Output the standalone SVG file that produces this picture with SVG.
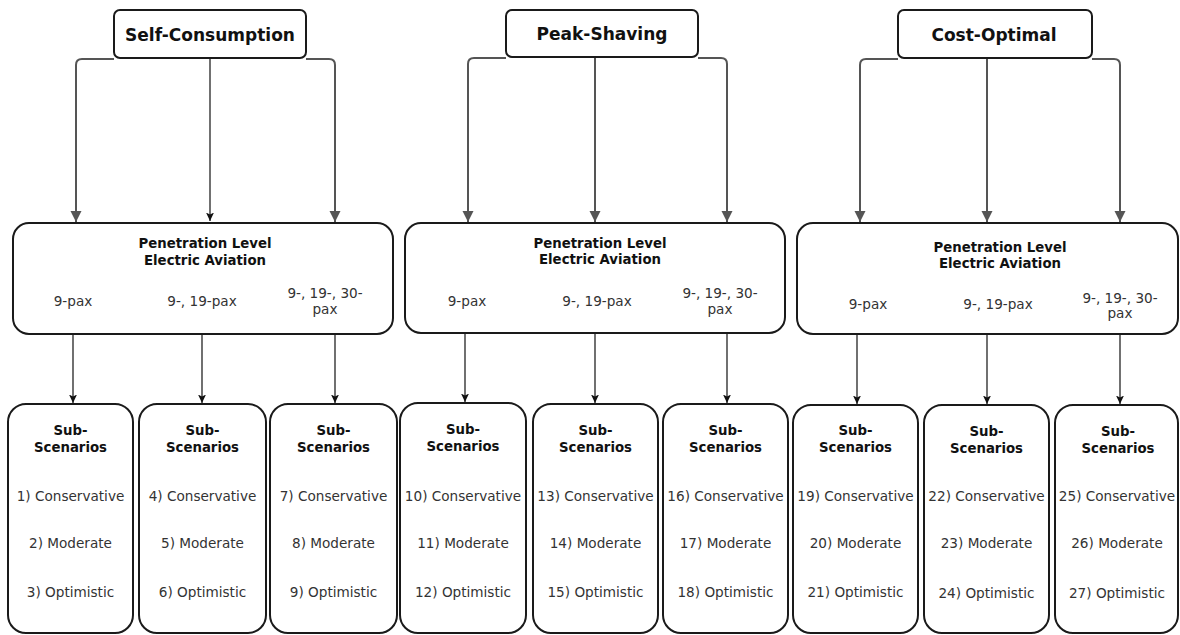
<svg xmlns="http://www.w3.org/2000/svg" width="1180" height="635" viewBox="0 0 1180 635">
<defs>
<style>
.box{fill:#fff;stroke:#1a1a1a;stroke-width:2}
.ttl{font-family:"DejaVu Sans",Verdana,sans-serif;font-weight:bold;font-size:17px;fill:#111;text-anchor:middle}
.hd{font-family:"DejaVu Sans",Verdana,sans-serif;font-weight:bold;font-size:13.3px;fill:#111;text-anchor:middle}
.tx{font-family:"DejaVu Sans",Verdana,sans-serif;font-size:13.6px;fill:#333;text-anchor:middle}
.cg{fill:none;stroke:#555;stroke-width:2}
.ck{fill:none;stroke:#111;stroke-width:1.2}
</style>
<marker id="ag" markerUnits="userSpaceOnUse" markerWidth="12" markerHeight="12" viewBox="0 0 12 12" refX="11" refY="6" orient="auto">
<path d="M0,0.5 L11,6 L0,11.5 z" fill="#555"/>
</marker>
<marker id="ak" markerUnits="userSpaceOnUse" markerWidth="9" markerHeight="9" viewBox="0 0 9 9" refX="8.5" refY="4.5" orient="auto">
<path d="M0,0.5 L8.5,4.5 L0,8.5 L2,4.5 z" fill="#111"/>
</marker>
</defs>

<g id="connectors">
<path class="cg" d="M114,59 H82 Q76,59 76,65 V222" marker-end="url(#ag)"/>
<path class="ck" d="M210,58 V221" marker-end="url(#ak)"/>
<path class="cg" d="M306,59 H329 Q335,59 335,65 V222" marker-end="url(#ag)"/>
<path class="cg" d="M506,58 H474 Q468,58 468,64 V222" marker-end="url(#ag)"/>
<path class="cg" d="M595,57 V222" marker-end="url(#ag)"/>
<path class="cg" d="M698,58 H721 Q727,58 727,64 V222" marker-end="url(#ag)"/>
<path class="cg" d="M898,59 H866 Q860,59 860,65 V222" marker-end="url(#ag)"/>
<path class="cg" d="M987,58 V222" marker-end="url(#ag)"/>
<path class="cg" d="M1092,59 H1114 Q1120,59 1120,65 V222" marker-end="url(#ag)"/>
<path class="ck" d="M73,335 V403" marker-end="url(#ak)"/>
<path class="ck" d="M202,335 V403" marker-end="url(#ak)"/>
<path class="ck" d="M335,335 V403" marker-end="url(#ak)"/>
<path class="ck" d="M465,334 V402" marker-end="url(#ak)"/>
<path class="ck" d="M595,334 V403" marker-end="url(#ak)"/>
<path class="ck" d="M727,334 V403" marker-end="url(#ak)"/>
<path class="ck" d="M857,335 V404" marker-end="url(#ak)"/>
<path class="ck" d="M987,335 V404" marker-end="url(#ak)"/>
<path class="ck" d="M1120,335 V404" marker-end="url(#ak)"/>
</g>

<g id="self-consumption">
<rect class="box" x="114" y="10" width="192" height="48" rx="6"/>
<text class="ttl" x="210" y="41">Self-Consumption</text>
</g>
<g id="peak-shaving">
<rect class="box" x="506" y="10" width="192" height="47" rx="6"/>
<text class="ttl" x="602" y="40">Peak-Shaving</text>
</g>
<g id="cost-optimal">
<rect class="box" x="898" y="10" width="194" height="48" rx="6"/>
<text class="ttl" x="994" y="41">Cost-Optimal</text>
</g>

<g id="penetration-1">
<rect class="box" x="13" y="223" width="380" height="111" rx="16"/>
<text class="hd" x="205" y="248">Penetration Level</text>
<text class="hd" x="205" y="265">Electric Aviation</text>
<text class="tx" x="73" y="306">9-pax</text>
<text class="tx" x="202" y="306">9-, 19-pax</text>
<text class="tx" x="325" y="298">9-, 19-, 30-</text>
<text class="tx" x="325" y="314">pax</text>
</g>
<g id="penetration-2">
<rect class="box" x="405" y="223" width="380" height="110" rx="16"/>
<text class="hd" x="600" y="248">Penetration Level</text>
<text class="hd" x="600" y="264">Electric Aviation</text>
<text class="tx" x="467" y="306">9-pax</text>
<text class="tx" x="597" y="306">9-, 19-pax</text>
<text class="tx" x="720" y="298">9-, 19-, 30-</text>
<text class="tx" x="720" y="314">pax</text>
</g>
<g id="penetration-3">
<rect class="box" x="797" y="223" width="381" height="111" rx="16"/>
<text class="hd" x="1000" y="252">Penetration Level</text>
<text class="hd" x="1000" y="268">Electric Aviation</text>
<text class="tx" x="868" y="309">9-pax</text>
<text class="tx" x="998" y="309">9-, 19-pax</text>
<text class="tx" x="1120" y="303">9-, 19-, 30-</text>
<text class="tx" x="1120" y="318">pax</text>
</g>

<g id="sub-1">
<rect class="box" x="8" y="404" width="125" height="229" rx="18"/>
<text class="hd" x="70.5" y="435">Sub-</text>
<text class="hd" x="70.5" y="452">Scenarios</text>
<text class="tx" x="70.5" y="501">1) Conservative</text>
<text class="tx" x="70.5" y="548">2) Moderate</text>
<text class="tx" x="70.5" y="597">3) Optimistic</text>
</g>
<g id="sub-2">
<rect class="box" x="139" y="404" width="127" height="229" rx="18"/>
<text class="hd" x="202.5" y="435">Sub-</text>
<text class="hd" x="202.5" y="452">Scenarios</text>
<text class="tx" x="202.5" y="501">4) Conservative</text>
<text class="tx" x="202.5" y="548">5) Moderate</text>
<text class="tx" x="202.5" y="597">6) Optimistic</text>
</g>
<g id="sub-3">
<rect class="box" x="270" y="404" width="127" height="229" rx="18"/>
<text class="hd" x="333.5" y="435">Sub-</text>
<text class="hd" x="333.5" y="452">Scenarios</text>
<text class="tx" x="333.5" y="501">7) Conservative</text>
<text class="tx" x="333.5" y="548">8) Moderate</text>
<text class="tx" x="333.5" y="597">9) Optimistic</text>
</g>
<g id="sub-4">
<rect class="box" x="400" y="403" width="126" height="230" rx="18"/>
<text class="hd" x="463" y="434">Sub-</text>
<text class="hd" x="463" y="451">Scenarios</text>
<text class="tx" x="463" y="501">10) Conservative</text>
<text class="tx" x="463" y="548">11) Moderate</text>
<text class="tx" x="463" y="597">12) Optimistic</text>
</g>
<g id="sub-5">
<rect class="box" x="533" y="404" width="125" height="229" rx="18"/>
<text class="hd" x="595.5" y="435">Sub-</text>
<text class="hd" x="595.5" y="452">Scenarios</text>
<text class="tx" x="595.5" y="501">13) Conservative</text>
<text class="tx" x="595.5" y="548">14) Moderate</text>
<text class="tx" x="595.5" y="597">15) Optimistic</text>
</g>
<g id="sub-6">
<rect class="box" x="663" y="404" width="125" height="229" rx="18"/>
<text class="hd" x="725.5" y="435">Sub-</text>
<text class="hd" x="725.5" y="452">Scenarios</text>
<text class="tx" x="725.5" y="501">16) Conservative</text>
<text class="tx" x="725.5" y="548">17) Moderate</text>
<text class="tx" x="725.5" y="597">18) Optimistic</text>
</g>
<g id="sub-7">
<rect class="box" x="793" y="405" width="125" height="228" rx="18"/>
<text class="hd" x="855.5" y="435">Sub-</text>
<text class="hd" x="855.5" y="452">Scenarios</text>
<text class="tx" x="855.5" y="501">19) Conservative</text>
<text class="tx" x="855.5" y="548">20) Moderate</text>
<text class="tx" x="855.5" y="597">21) Optimistic</text>
</g>
<g id="sub-8">
<rect class="box" x="924" y="405" width="125" height="228" rx="18"/>
<text class="hd" x="986.5" y="436">Sub-</text>
<text class="hd" x="986.5" y="453">Scenarios</text>
<text class="tx" x="986.5" y="501">22) Conservative</text>
<text class="tx" x="986.5" y="548">23) Moderate</text>
<text class="tx" x="986.5" y="598">24) Optimistic</text>
</g>
<g id="sub-9">
<rect class="box" x="1055" y="405" width="123" height="228" rx="18"/>
<text class="hd" x="1118" y="436">Sub-</text>
<text class="hd" x="1118" y="453">Scenarios</text>
<text class="tx" x="1117" y="501">25) Conservative</text>
<text class="tx" x="1117" y="548">26) Moderate</text>
<text class="tx" x="1117" y="598">27) Optimistic</text>
</g>
</svg>
